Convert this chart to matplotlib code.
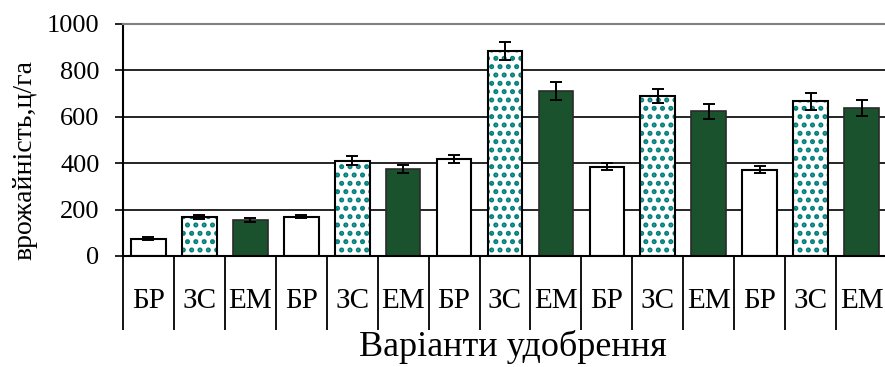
import numpy as np
import matplotlib
matplotlib.use("Agg")
from matplotlib import pyplot as plt

plt.rcParams['font.family'] = ['Liberation Serif', 'DejaVu Serif']
plt.rcParams['hatch.linewidth'] = 2.4

labels = ["БР", "ЗС", "ЕМ"] * 5
values = [75, 168, 155, 169, 411, 376, 418, 884, 712, 385, 690, 623, 371, 666, 639]
errors = [5, 8, 8, 6, 20, 17, 16, 38, 39, 15, 30, 33, 15, 37, 35]

x = np.arange(len(values))
kinds = np.array([0, 1, 2] * 5)

fig = plt.figure(figsize=(8.85, 3.67), dpi=100)
ax = fig.add_axes([123 / 885, 1 - 256 / 367, (887 - 123) / 885, (256 - 24) / 367])

ax.set_axisbelow(True)
ax.yaxis.grid(True, color="black", linewidth=1.2)

br = kinds == 0
zs = kinds == 1
em = kinds == 2
w = 0.68
vals = np.array(values)
errs = np.array(errors)

ax.bar(x[br], vals[br], w, color="white", edgecolor="black", linewidth=1.5)
ax.bar(x[zs], vals[zs], w, color="white", edgecolor="#007f7c", hatch="..", linewidth=0)
ax.bar(x[zs], vals[zs], w, color="none", edgecolor="black", linewidth=1.5)
ax.bar(x[em], vals[em], w, color="#1b522e", edgecolor="#2a2a2a", linewidth=1.2)

ax.errorbar(x, vals, yerr=errs, fmt="none", ecolor="black", elinewidth=1.4,
            capsize=4.5, capthick=1.4)

ax.set_xlim(-0.5, len(values) - 0.5)
ax.set_ylim(0, 1000)
ax.set_yticks([0, 200, 400, 600, 800, 1000])
ax.tick_params(axis="y", labelsize=19, length=6, width=1.2, direction="out", pad=11)

ax.set_xticks(np.arange(len(values) + 1) - 0.5)
ax.set_xticklabels([])
ax.tick_params(axis="x", which="major", length=53, width=1.3, direction="out")
ax.set_xticks(x, minor=True)
ax.set_xticklabels(labels, minor=True, fontsize=21)
ax.tick_params(axis="x", which="minor", length=0, pad=23)

ax.spines["right"].set_visible(False)
ax.spines["top"].set_color("#808080")
ax.spines["top"].set_linewidth(1.5)
ax.spines["left"].set_linewidth(1.5)
ax.spines["bottom"].set_linewidth(1.5)

fig.text(25 / 885, 0.565, "врожайність,ц/га", fontsize=20, rotation=90,
         ha="center", va="center")
fig.text(0.579, 0.008, "Варіанти удобрення", fontsize=26, ha="center", va="bottom")

plt.savefig("out.png", dpi=100)
